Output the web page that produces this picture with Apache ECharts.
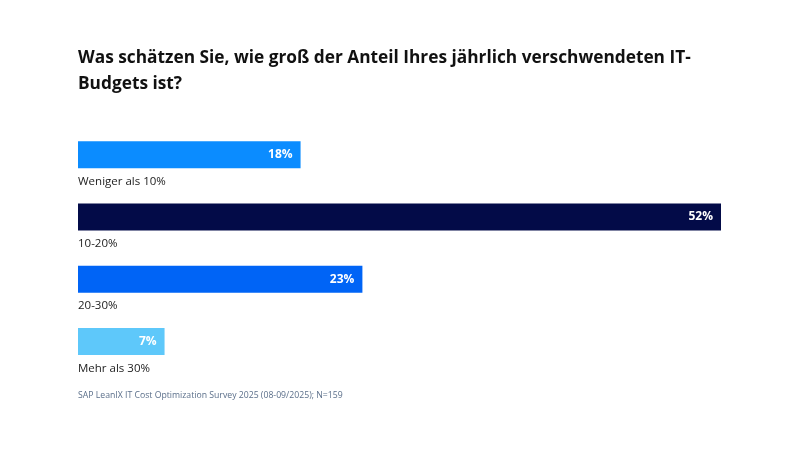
<!DOCTYPE html>
<html><head><meta charset="utf-8">
<script src="https://cdn.jsdelivr.net/npm/echarts@6/dist/echarts.min.js"></script>
<style>html,body{margin:0;padding:0;background:#fff}#c{width:799px;height:450px}</style>
</head><body><div id="c"></div>
<script>
const categories = ['Weniger als 10%', '10-20%', '20-30%', 'Mehr als 30%'];
const values = [18, 52, 23, 7];
const barColors = ['#0b8cff', '#030b48', '#0064f6', '#5ec8fa'];
const titleText = 'Was schätzen Sie, wie groß der Anteil Ihres jährlich verschwendeten IT-\nBudgets ist?';
const sourceText = 'SAP LeanIX IT Cost Optimization Survey 2025 (08-09/2025); N=159';

const chart = echarts.init(document.getElementById('c'), null, {renderer: 'canvas'});
chart.setOption({
  animation: false,
  title: {
    text: titleText, left: 78, top: 45, padding: 0,
    textStyle: {fontFamily: 'Open Sans', fontWeight: 'bold', fontSize: 17.3, color: '#111', lineHeight: 26}
  },
  graphic: [{
    type: 'text', left: 78, top: 391,
    style: {text: sourceText, fontFamily: 'Open Sans', fontSize: 8.7, fill: '#5b6f8a'}
  }],
  grid: {left: 78, right: 78, top: 123.5, bottom: 77.5, containLabel: false},
  xAxis: {type: 'value', min: 0, max: 52, show: false},
  yAxis: {
    type: 'category', data: categories, inverse: true,
    axisLine: {show: false}, axisTick: {show: false}, splitLine: {show: false},
    axisLabel: {
      inside: true, margin: 0, align: 'left', verticalAlign: 'top',
      padding: [21, 0, 0, 0],
      fontFamily: 'Open Sans', fontSize: 11.5, color: '#222'
    }
  },
  series: [{
    type: 'bar', barWidth: 27,
    data: values.map((v, i) => ({value: v, itemStyle: {color: barColors[i]}})),
    label: {
      show: true, position: 'insideRight', distance: 8,
      formatter: '{c}%', color: '#fff', fontWeight: 'bold', fontFamily: 'Open Sans', fontSize: 12
    }
  }]
});
</script></body></html>
